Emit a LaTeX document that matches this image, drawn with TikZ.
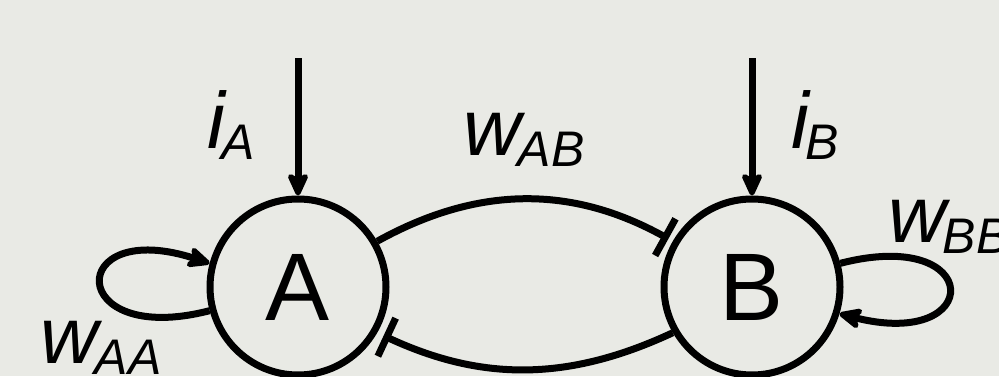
\documentclass[tikz,border=0pt]{standalone}
\usepackage{fontspec}
\setmainfont{Liberation Sans}
\usetikzlibrary{arrows.meta}
\definecolor{bgcol}{RGB}{233,234,229}
\newcommand\mylbl[2]{\fontsize{80}{80}\selectfont\itshape #1\kern-3pt\raisebox{-11pt}{\fontsize{50}{50}\selectfont #2}}
\begin{document}
\begin{tikzpicture}[x=1pt,y=1pt, line width=7pt,
  neuron/.style={draw, circle, minimum size=176pt, inner sep=0pt, font=\fontsize{96}{96}\selectfont},
  excite/.style={-{Stealth[length=29pt,width=26pt,inset=8pt,round]}},
  inhibit/.style={-{Bar[width=42pt]}},
  lbl/.style={anchor=base west, inner sep=0pt, outer sep=0pt}]
\useasboundingbox (0,0) rectangle (999,376);
\fill[bgcol] (0,0) rectangle (999,376);
\clip (0,0) rectangle (999,376);

\node[neuron] (A) at (298,89) {A};
\node[neuron] (B) at (752,89) {B};

\coordinate (inA) at (298,318);
\coordinate (inB) at (752,318);
\draw[excite] (inA) -- (A.north);
\draw[excite] (inB) -- (B.north);

\draw[inhibit, shorten >=5pt] (A.30) to[bend left=29] (B.150);
\draw[inhibit, shorten >=7pt] (B.210) to[bend left=25] (A.-30);

\draw[excite] (A.195) .. controls (65,28) and (65,160) .. (A.165);
\draw[excite] (B.15) .. controls (985,150) and (985,25) .. (B.-17);

\node[lbl] (liA) at (207,228) {\mylbl{i}{A}};
\node[lbl] (liB) at (791,228) {\mylbl{i}{B}};
\node[lbl] (lwAB) at (463,221) {\mylbl{w}{AB}};
\node[lbl] (lwBB) at (888,134) {\mylbl{w}{BB}};
\node[lbl] (lwAA) at (40,13) {\mylbl{w}{AA}};
\end{tikzpicture}
\end{document}
